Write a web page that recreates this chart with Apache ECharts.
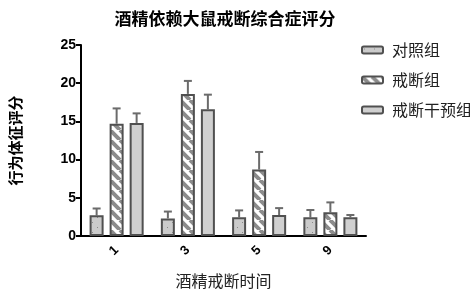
<!DOCTYPE html>
<html><head><meta charset="utf-8">
<script src="https://cdn.jsdelivr.net/npm/echarts@6/dist/echarts.min.js"></script>
<style>html,body{margin:0;padding:0;background:#fff}#c{width:470px;height:294px}</style>
</head><body><div id="c"></div>
<script>
const categories = ['1', '3', '5', '9'];
const seriesNames = ['对照组', '戒断组', '戒断干预组'];
const controlMean = [2.7, 2.3, 2.45, 2.45];
const controlErr = [3.6, 3.2, 3.35, 3.4];
const withdrawMean = [14.7, 18.6, 8.7, 3.1];
const withdrawErr = [16.7, 20.3, 11.0, 4.4];
const interveneMean = [14.8, 16.6, 2.75, 2.45];
const interveneErr = [16.05, 18.5, 3.65, 2.75];
const yTicks = [0, 5, 10, 15, 20, 25];

function makePattern(kind) {
  const c = document.createElement('canvas');
  const s = 10;
  c.width = s; c.height = s;
  const g = c.getContext('2d');
  if (kind === 'dots') {
    g.fillStyle = '#cbcbcb'; g.fillRect(0, 0, s, s);
    g.fillStyle = '#8a8a8a';
    g.fillRect(2, 2, 1, 1); g.fillRect(7, 7, 1, 1);
  } else if (kind === 'stripes') {
    g.fillStyle = '#ffffff'; g.fillRect(0, 0, s, s);
    g.strokeStyle = '#8c8c8c'; g.lineWidth = 4;
    g.beginPath();
    for (let k = -2; k <= 2; k++) {
      g.moveTo(k * s, 0); g.lineTo(k * s + s, s);
    }
    g.stroke();
  } else {
    g.fillStyle = '#d0d0d0'; g.fillRect(0, 0, s, s);
  }
  return { image: c, repeat: 'repeat' };
}
const fills = [makePattern('dots'), makePattern('stripes'), makePattern('plain')];
const means = [controlMean, withdrawMean, interveneMean];
const errs = [controlErr, withdrawErr, interveneErr];
const BAR_W = 14, STEP = 20;

const chart = echarts.init(document.getElementById('c'), null, { renderer: 'canvas' });
const series = [];
means.forEach((m, i) => {
  series.push({
    name: seriesNames[i], type: 'bar', data: m, barWidth: BAR_W, barGap: '43%',
    itemStyle: { color: fills[i], borderColor: '#505050', borderWidth: 2 },
    z: 2
  });
});
errs.forEach((e, i) => {
  series.push({
    type: 'custom', name: 'err' + i, z: 1,
    data: e.map((v, j) => [j, means[i][j], v]),
    encode: { x: 0, y: [1, 2] },
    renderItem: function (params, api) {
      const top = api.coord([api.value(0), api.value(2)]);
      const base = api.coord([api.value(0), api.value(1)]);
      const x = top[0] + (i - 1) * STEP;
      const st = { stroke: '#6b6b6b', lineWidth: 2 };
      return { type: 'group', children: [
        { type: 'line', shape: { x1: x, y1: base[1], x2: x, y2: top[1] }, style: st },
        { type: 'line', shape: { x1: x - 4, y1: top[1], x2: x + 4, y2: top[1] }, style: st }
      ] };
    }
  });
});

chart.setOption({
  animation: false,
  title: {
    text: '酒精依赖大鼠戒断综合症评分', left: 220, top: 5, textAlign: 'center',
    textStyle: { fontFamily: 'Noto Sans CJK SC', fontWeight: 'bold', fontSize: 17, color: '#000' }
  },
  legend: {
    orient: 'vertical', left: 356, top: 37, itemWidth: 21, itemHeight: 7, itemGap: 14,
    data: seriesNames,
    textStyle: { fontFamily: 'Noto Sans CJK SC', fontSize: 16, color: '#222', padding: [0, 0, 0, 4] },
    itemStyle: { borderColor: '#505050', borderWidth: 2 }
  },
  grid: { left: 74, right: 104, top: 45, bottom: 57 },
  xAxis: {
    type: 'category', data: categories,
    name: '酒精戒断时间', nameLocation: 'middle', nameGap: 37,
    nameTextStyle: { fontFamily: 'Noto Sans CJK SC', fontSize: 16, color: '#222' },
    axisLine: { lineStyle: { color: '#000', width: 2 } },
    axisTick: { alignWithLabel: true, length: 6, lineStyle: { color: '#000', width: 2 } },
    axisLabel: { rotate: 45, fontFamily: 'Liberation Sans', fontWeight: 'bold', fontSize: 13, color: '#000', margin: 12 }
  },
  yAxis: {
    type: 'value', min: 0, max: 25, interval: 5,
    name: '行为体征评分', nameLocation: 'middle', nameGap: 58, nameRotate: 90,
    nameTextStyle: { fontFamily: 'Noto Sans CJK SC', fontWeight: 'bold', fontSize: 15, color: '#000' },
    splitLine: { show: false },
    axisLine: { show: true, lineStyle: { color: '#000', width: 2 } },
    axisTick: { show: true, length: 5, lineStyle: { color: '#000', width: 2 } },
    axisLabel: { fontFamily: 'Liberation Sans', fontWeight: 'bold', fontSize: 14, color: '#000', margin: 5,
      formatter: v => (yTicks.indexOf(v) >= 0 ? String(v) : '') }
  },
  series: series
});
</script></body></html>
